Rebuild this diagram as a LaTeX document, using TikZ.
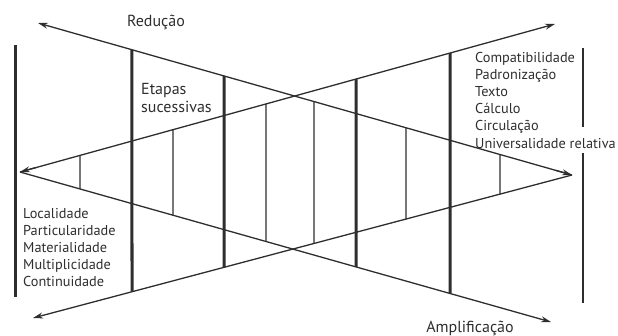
\documentclass[tikz,border=0pt]{standalone}
\usepackage{fontspec}
\setmainfont{PT Sans}
\usetikzlibrary{arrows.meta,calc}
\definecolor{ink}{HTML}{2E2E2E}
\begin{document}
\begin{tikzpicture}[x=1pt, y=-1pt, color=ink,
  ray/.style={line width=1.3pt, -{Stealth[length=10pt, width=6pt]}},
  thickbar/.style={line width=3pt},
  thinbar/.style={line width=1.4pt},
  txt/.style={inner sep=0pt, font=\fontsize{14.3}{17.2}\selectfont, align=left},
  bigtxt/.style={txt, font=\fontsize{16}{18}\selectfont}]
\useasboundingbox (0,0) rectangle (618,335);
% arrow ends
\coordinate (lt) at (20,172);
\coordinate (rt) at (572,175);
\coordinate (ul) at (38,23);
\coordinate (ur) at (555,24);
\coordinate (ll) at (33,318);
\coordinate (lr) at (551,322);
% the four rays
\draw[ray] (rt) -- (ul);
\draw[ray] (lt) -- (ur);
\draw[ray] (lt) -- (lr);
\draw[ray] (rt) -- (ll);
\draw[ray] ($(lt)!0.03!(ur)$) -- (lt);
\draw[ray] ($(rt)!0.03!(ul)$) -- (rt);
% successive stages
\foreach \x in {132,224}
  \draw[thickbar] ($(ul)!{(\x-38)/534}!(rt)$) -- ($(ll)!{(\x-33)/539}!(rt)$);
\foreach \x in {356,450}
  \draw[thickbar] ($(lt)!{(\x-20)/535}!(ur)$) -- ($(lt)!{(\x-20)/531}!(lr)$);
\foreach \x in {80,173,266}
  \draw[thinbar] ($(lt)!{(\x-20)/535}!(ur)$) -- ($(lt)!{(\x-20)/531}!(lr)$);
\foreach \x in {314,406,500}
  \draw[thinbar] ($(ul)!{(\x-38)/534}!(rt)$) -- ($(ll)!{(\x-33)/539}!(rt)$);
% outer bars
\coordinate (lb1) at (15,45);
\coordinate (lb2) at (15,297);
\coordinate (rb1) at (583,48);
\coordinate (rb2) at (583,127);
\coordinate (rb3) at (583,153);
\coordinate (rb4) at (583,303);
\draw[thickbar] (lb1) -- (lb2);
\draw[line width=2pt] (rb1) -- (rb2);
\draw[line width=2pt] (rb3) -- (rb4);
% texts
\node (reducao) [bigtxt] at (156,22) {Redução};
\node (etapas) [bigtxt, anchor=north west] at (141,83.5) {Etapas\\sucessivas};
\node (ganhos) [txt, anchor=north west] at (475,51.7) {Compatibilidade\\Padronização\\Texto\\Cálculo\\Circulação\\Universalidade relativa};
\node (perdas) [txt, anchor=north west] at (23,207.7) {Localidade\\Particularidade\\Materialidade\\Multiplicidade\\Continuidade};
\node (amplificacao) [bigtxt] at (470,328) {Amplificação};
\end{tikzpicture}
\end{document}
